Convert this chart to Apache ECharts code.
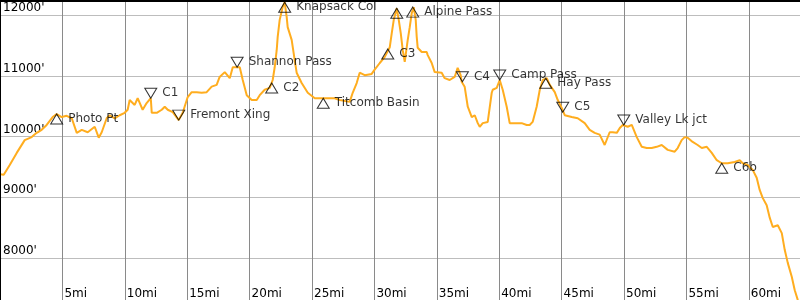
<!DOCTYPE html>
<html><head><meta charset="utf-8">
<script src="https://cdn.jsdelivr.net/npm/echarts@6/dist/echarts.min.js"></script>
<style>html,body{margin:0;padding:0;background:#fff}#c{width:800px;height:300px}</style>
</head><body><div id="c"></div>
<script>
// Trail profile: distance (miles) and elevation (feet)
const miles = [0,0.3,0.78,1.34,1.98,2.54,2.94,3.34,3.74,4.22,4.54,4.94,5.34,5.75,6.15,6.55,7.03,7.59,7.91,8.15,8.55,8.79,9.19,9.59,9.99,10.23,10.39,10.55,10.79,11.03,11.43,11.75,12.08,12.16,12.56,12.96,13.2,13.44,13.84,14.32,14.64,15.04,15.36,15.76,16.16,16.56,16.96,17.36,17.6,18.01,18.41,18.65,18.97,19.21,19.45,19.77,20.17,20.57,20.81,21.21,21.61,21.85,22.01,22.17,22.25,22.41,22.65,22.81,22.97,23.05,23.37,23.61,23.77,24.17,24.66,25.22,25.78,26.26,26.82,27.22,28.02,28.26,28.58,28.82,29.22,29.78,30.02,30.43,30.83,31.23,31.39,31.55,31.79,31.95,32.11,32.27,32.43,32.59,32.67,32.83,32.99,33.15,33.31,33.39,33.47,33.79,34.19,34.27,34.59,34.83,35.39,35.63,36.03,36.43,36.67,36.91,36.99,37.23,37.48,37.8,38.04,38.28,38.44,38.68,39.08,39.4,39.48,39.8,40.04,40.28,40.6,40.84,41.4,41.8,42.2,42.44,42.68,43.0,43.25,43.49,43.81,44.05,44.45,44.69,45.01,45.25,45.81,46.29,46.85,47.25,47.65,48.05,48.45,48.85,49.09,49.42,49.66,49.9,50.3,50.62,51.02,51.42,51.82,52.22,52.62,53.02,53.5,54.06,54.3,54.62,54.86,55.1,55.5,55.9,56.23,56.63,57.03,57.43,57.83,58.31,58.87,59.27,59.51,59.91,60.31,60.63,60.87,61.11,61.43,61.68,61.92,62.32,62.64,62.88,63.12,63.44,63.68,63.92,64.1];
const elevation = [9380,9370,9530,9730,9940,9990,10060,10110,10190,10320,10370,10320,10340,10300,10060,10110,10070,10160,9980,10070,10300,10350,10300,10350,10390,10440,10600,10630,10520,10630,10440,10550,10630,10390,10390,10440,10490,10440,10400,10270,10390,10650,10730,10730,10720,10730,10820,10850,10980,11060,10960,11140,11140,11140,10930,10680,10600,10600,10680,10770,10800,10930,11140,11420,11640,11920,12130,12210,11970,11800,11590,11260,11050,10880,10720,10630,10630,10630,10630,10600,10570,10720,10880,11050,11010,11030,11100,11210,11310,11470,11700,11920,12110,11920,11700,11420,11230,11470,11590,11800,12030,12130,11920,11640,11460,11390,11390,11340,11210,11060,11050,10960,10930,10980,11130,11010,10900,10820,10490,10320,10350,10220,10160,10220,10240,10720,10770,10800,10930,10770,10490,10220,10220,10220,10190,10190,10240,10490,10770,10930,10960,10850,10730,10600,10470,10350,10320,10300,10220,10110,10060,10030,9860,10070,10070,10060,10140,10190,10160,10190,9990,9830,9810,9810,9830,9860,9780,9750,9810,9940,9990,9980,9910,9860,9810,9830,9730,9610,9560,9560,9580,9610,9560,9530,9450,9320,9120,8990,8870,8660,8510,8540,8410,8130,7920,7690,7470,7310,7230];

// Waypoints
const wpNames = ['Photo Pt','C1','Fremont Xing','Shannon Pass','C2','Knapsack Col','Titcomb Basin','C3','','Alpine Pass','C4','Camp Pass','Hay Pass','C5','Valley Lk jct','C6b'];
const wpMiles = [4.54,12.08,14.32,19.0,21.77,22.81,25.9,31.07,31.79,33.07,37.05,40.04,43.73,45.09,49.98,57.83];
const wpElev  = [10370,10630,10270,11140,10880,12210,10630,11440,12110,12130,10900,10930,10960,10400,10190,9560];
const wpDir   = ['up','down','down','down','up','up','up','up','up','up','down','down','up','down','down','up'];

const UP = 'path://M5,0L10,8.5L0,8.5Z';
const DOWN = 'path://M0,0L10,0L5,8.5Z';

const lineData = miles.map((m, i) => [m, elevation[i]]);
const wpData = wpMiles.map((m, i) => ({
  value: [m, wpElev[i]],
  name: wpNames[i],
  symbol: wpDir[i] === 'up' ? UP : DOWN,
  symbolOffset: wpDir[i] === 'up' ? [0, 5] : [0, -5],
  label: { show: wpNames[i] !== '' }
}));

const chart = echarts.init(document.getElementById('c'), null, { renderer: 'canvas' });
chart.setOption({
  animation: false,
  backgroundColor: '#fff',
  textStyle: { fontFamily: 'DejaVu Sans' },
  grid: { left: 0, right: 0, top: -45.75, bottom: -18.75, containLabel: false, outerBoundsMode: 'none' },
  xAxis: {
    type: 'value', min: 0, max: 64.1, interval: 5,
    axisLine: { show: false }, axisTick: { show: false },
    splitLine: { show: true, lineStyle: { color: '#8a8a8a', width: 1 } },
    axisLabel: {
      inside: true, margin: 19, align: 'left', verticalAlign: 'bottom',
      padding: [0, 0, 0, 2], fontSize: 12, color: '#000', fontFamily: 'DejaVu Sans',
      showMinLabel: false, showMaxLabel: false,
      formatter: v => (v === 0 ? '' : v + 'mi')
    }
  },
  yAxis: {
    type: 'value', min: 7000, max: 13000, interval: 1000,
    axisLine: { show: false }, axisTick: { show: false },
    splitLine: { show: true, lineStyle: { color: '#bdbdbd', width: 1 } },
    axisLabel: {
      inside: true, margin: 3, align: 'left', verticalAlign: 'bottom',
      padding: [0, 0, 1, 0], fontSize: 12, color: '#000', fontFamily: 'DejaVu Sans',
      formatter: v => v + "'"
    }
  },
  graphic: [
    { type: 'line', shape: { x1: 0, y1: 1, x2: 800, y2: 1 }, style: { stroke: '#000', lineWidth: 2 }, z: 100 },
    { type: 'line', shape: { x1: 0, y1: 0, x2: 0, y2: 300 }, style: { stroke: '#000', lineWidth: 2 }, z: 100 }
  ],
  series: [
    {
      type: 'line', data: lineData, showSymbol: false, symbol: 'none',
      lineStyle: { color: '#ffad1f', width: 2 }, z: 2
    },
    {
      type: 'scatter', data: wpData, symbolSize: [12, 10], z: 3,
      itemStyle: { color: 'rgba(0,0,0,0)', borderColor: '#000', borderWidth: 1 },
      label: {
        position: 'right', distance: 5, fontSize: 12, color: '#000', fontFamily: 'DejaVu Sans',
        formatter: p => p.name
      },
      emphasis: { disabled: true }
    }
  ]
});
</script>
</body></html>
